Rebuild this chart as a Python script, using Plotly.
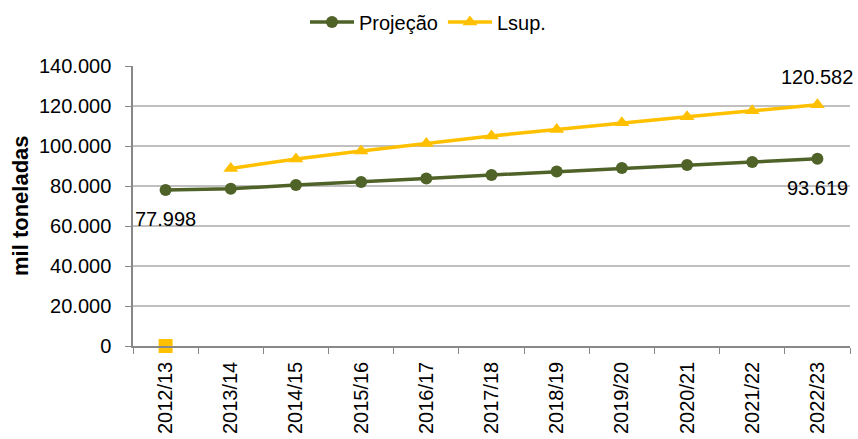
import plotly.graph_objects as go

# Marketing years
safras = ["2012/13", "2013/14", "2014/15", "2015/16", "2016/17", "2017/18",
          "2018/19", "2019/20", "2020/21", "2021/22", "2022/23"]

# Projected production (mil toneladas)
projecao = [77998, 78600, 80500, 82000, 83700, 85500,
            87200, 89000, 90500, 92000, 93619]

# Upper limit of the projection (first year has no interval)
lsup = [None, 88800, 93500, 97500, 101300, 105000,
        108300, 111600, 114600, 117600, 120582]

# Upper-limit value for the base year
lsup_base = [0]

green = "#4F6228"
gold = "#FFC000"
font_family = "Liberation Sans, Arial, sans-serif"
fs = 20

fig = go.Figure()

fig.add_trace(go.Scatter(
    x=safras, y=projecao, name="Projeção", mode="lines+markers",
    line=dict(color=green, width=3.5),
    marker=dict(symbol="circle", size=12, color=green),
))
fig.add_trace(go.Scatter(
    x=safras, y=lsup, name="Lsup.", mode="lines+markers",
    line=dict(color=gold, width=3.5),
    marker=dict(symbol="triangle-up", size=13, color=gold),
))
fig.add_trace(go.Scatter(
    x=safras[:1], y=lsup_base, mode="markers", showlegend=False,
    marker=dict(symbol="square", size=14, color=gold),
    cliponaxis=False,
))


def fmt(v):
    return f"{v:,}".replace(",", ".")


# Value labels at the ends of the series
fig.add_annotation(x=safras[0], y=projecao[0], text=fmt(projecao[0]),
                   showarrow=False, yshift=-29, xref="x", yref="y")
fig.add_annotation(x=safras[-1], y=projecao[-1], text=fmt(projecao[-1]),
                   showarrow=False, yshift=-29, xref="x", yref="y")
fig.add_annotation(x=safras[-1], y=lsup[-1], text=fmt(lsup[-1]),
                   showarrow=False, yshift=28, xref="x", yref="y")

# Y-axis title, placed in the left margin
fig.add_annotation(x=(20 - 133) / 717, y=0.5, xref="paper", yref="paper",
                   xanchor="center", yanchor="middle",
                   text="<b>mil toneladas</b>", textangle=-90,
                   showarrow=False, font=dict(size=22))

fig.update_layout(
    width=858, height=439,
    margin=dict(l=133, r=8, t=66, b=93, autoexpand=False),
    paper_bgcolor="white", plot_bgcolor="white",
    font=dict(family=font_family, size=fs, color="#000000"),
    separators=",.",
    showlegend=True,
    legend=dict(orientation="h", xref="container", x=428 / 858,
                xanchor="center", yref="container", y=1 - 22 / 439,
                yanchor="middle", font=dict(size=fs), itemwidth=44,
                tracegroupgap=0),
)

fig.update_xaxes(
    type="category", range=[-0.5, 10.5],
    tickangle=-90, tickson="boundaries",
    ticks="outside", ticklen=6, tickcolor="#888888",
    showline=True, linecolor="#888888", linewidth=1.5,
    showgrid=False, tickfont=dict(size=fs), automargin=False,
    ticklabelstandoff=6,
)
fig.update_yaxes(
    range=[0, 140000], dtick=20000, tickformat=",",
    ticks="outside", ticklen=6, tickcolor="#888888",
    showline=True, linecolor="#888888", linewidth=1.5,
    showgrid=True, gridcolor="#C0C0C0", gridwidth=1.5,
    zeroline=False, tickfont=dict(size=fs), automargin=False,
    ticklabelstandoff=10,
)

fig.write_html("out.html")
